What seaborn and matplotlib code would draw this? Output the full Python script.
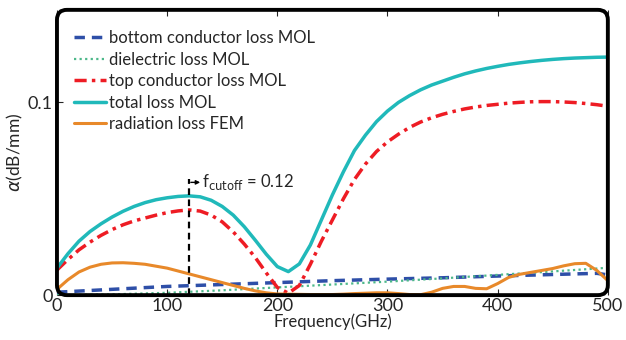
import numpy as np
import pandas as pd
import matplotlib
matplotlib.use("Agg")
import matplotlib.pyplot as plt
import seaborn as sns
from matplotlib.patches import FancyBboxPatch

# valores (GHz, dB/mm)
freq_fino = list(range(0, 510, 10))

total_mol = [0.014, 0.0215, 0.028, 0.033, 0.037, 0.0405, 0.0435, 0.046, 0.048, 0.0495,
             0.0505, 0.0512, 0.0515, 0.051, 0.0492, 0.046, 0.0415, 0.0355, 0.0285, 0.0212,
             0.0148, 0.0122, 0.0162, 0.026, 0.039, 0.052, 0.064, 0.075, 0.083, 0.090,
             0.0955, 0.100, 0.1035, 0.1065, 0.109, 0.111, 0.113, 0.1148, 0.1163, 0.1176,
             0.1187, 0.1197, 0.1205, 0.1212, 0.1218, 0.1223, 0.1227, 0.123, 0.1232, 0.1234,
             0.1235]

top_mol = [0.013, 0.0185, 0.0235, 0.0275, 0.031, 0.034, 0.0365, 0.0385, 0.040, 0.0415,
           0.0428, 0.0437, 0.0442, 0.0436, 0.0415, 0.038, 0.0328, 0.0265, 0.0195, 0.0115,
           0.004, 0.001, 0.005, 0.016, 0.028, 0.039, 0.050, 0.060, 0.068, 0.0745,
           0.0795, 0.0835, 0.087, 0.0898, 0.092, 0.0938, 0.0953, 0.0966, 0.0976, 0.0984,
           0.099, 0.0996, 0.100, 0.1003, 0.1004, 0.1004, 0.1002, 0.0999, 0.0994, 0.0988,
           0.098]

radiacion_fem = [0.003, 0.008, 0.012, 0.0145, 0.016, 0.0167, 0.0168, 0.0165, 0.016, 0.015,
                 0.014, 0.0125, 0.011, 0.0095, 0.008, 0.0065, 0.005, 0.0035, 0.0022, 0.0012,
                 0.0006, 0.0005, 0.0004, 0.0003, 0.0003, 0.0003, 0.0005, 0.0008, 0.001, 0.0012,
                 0.0012, 0.0008, 0.0003, 0.0002, 0.0015, 0.0035, 0.0045, 0.0045, 0.0035, 0.0033,
                 0.006, 0.0092, 0.0108, 0.0118, 0.0128, 0.0138, 0.0152, 0.0163, 0.0165, 0.0128,
                 0.0075]

freq_grueso = [0, 50, 100, 150, 200, 250, 300, 350, 400, 450, 490, 500]
bottom_mol = [0.0015, 0.003, 0.0045, 0.0055, 0.0065, 0.0075, 0.0083, 0.009, 0.0099, 0.0107, 0.0113, 0.0105]
dielectrico_mol = [0.0, 0.0004, 0.0012, 0.0025, 0.004, 0.0055, 0.007, 0.0087, 0.0105, 0.0123, 0.0138, 0.0142]

f_cutoff = 120
y_cutoff = 0.060

sns.set_theme(style="white")
plt.rcParams['font.family'] = ['Lato', 'DejaVu Sans']

fig = plt.figure(figsize=(6.26, 3.4), dpi=100)
ax = fig.add_axes([0.091, 0.132, 0.880, 0.839])

sns.lineplot(x=freq_grueso, y=bottom_mol, ax=ax, color="#2E4FA8", lw=2.5,
             linestyle=(0, (3, 2)), label="bottom conductor loss MOL")
sns.lineplot(x=freq_grueso, y=dielectrico_mol, ax=ax, color="#4DB88A", lw=1.6,
             linestyle=(0, (1, 1.5)), label="dielectric loss MOL")
sns.lineplot(x=freq_fino, y=top_mol, ax=ax, color="#EE1C24", lw=2.5,
             linestyle=(0, (3.5, 1.5, 1, 1.5)), label="top conductor loss MOL")
sns.lineplot(x=freq_fino, y=total_mol, ax=ax, color="#20B9BA", lw=2.5,
             label="total loss MOL")
sns.lineplot(x=freq_fino, y=radiacion_fem, ax=ax, color="#E8892A", lw=2.2,
             label="radiation loss FEM")

# linea de corte
ax.plot([f_cutoff, f_cutoff], [0, y_cutoff], color="black", lw=1.6, ls=(0, (3, 2)))
ax.annotate("", xy=(f_cutoff + 10, y_cutoff - 0.0015), xytext=(f_cutoff + 1.5, y_cutoff - 0.0015),
            arrowprops=dict(arrowstyle="-|>", lw=1, color="black", mutation_scale=6,
                            shrinkA=0, shrinkB=0))
ax.text(f_cutoff + 12, y_cutoff - 0.0015, r"f$_{\mathrm{cutoff}}$ = 0.12",
        fontsize=12, va="center", ha="left")

ax.set_xlim(0, 500)
ax.set_ylim(0, 0.148)
ax.set_xticks([0, 100, 200, 300, 400, 500])
ax.set_yticks([0, 0.1])
ax.set_yticklabels(["0", "0.1"])
ax.set_xlabel("Frequency(GHz)", fontsize=12, labelpad=0)
ax.set_ylabel(r"$\alpha$(dB/mm)", fontsize=12.5, labelpad=2)
ax.tick_params(direction="in", length=4, width=0.8, labelsize=13,
               top=True, bottom=True, left=True, right=False)
ax.tick_params(axis="x", pad=2)
ax.tick_params(axis="y", pad=3)

# marco con esquinas redondeadas
for s in ax.spines.values():
    s.set_visible(False)
marco = FancyBboxPatch((0, 0), 1, 1, boxstyle="round,pad=0,rounding_size=0.018",
                       mutation_aspect=551 / 285, transform=ax.transAxes,
                       fill=False, lw=2.8, ec="black", clip_on=False, zorder=5)
ax.add_patch(marco)

leg = ax.legend(loc="upper left", frameon=False, fontsize=12, handlelength=1.9,
                handletextpad=0.2, labelspacing=0.33, borderaxespad=0.3,
                bbox_to_anchor=(0.01, 0.97))

fig.savefig("out.png", dpi=100)
